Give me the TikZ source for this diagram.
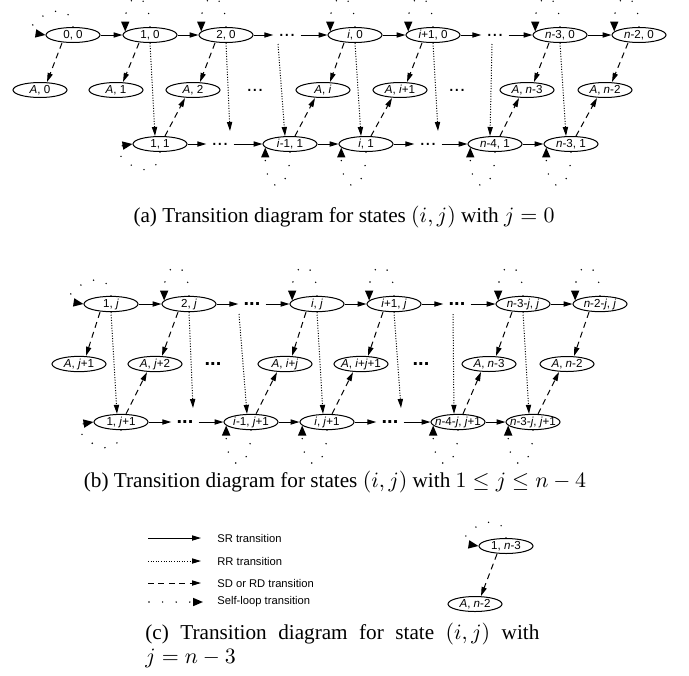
\documentclass[tikz,border=0pt]{standalone}
\usepackage{fontspec}
\setmainfont{Liberation Serif}
\newfontfamily\nodesf{Liberation Sans}
\usetikzlibrary{arrows.meta,shapes.geometric}
\newcommand\nlab[1]{\makebox[0pt]{#1}}
\newcommand\itl[1]{\textit{#1}}
\begin{document}
\begin{tikzpicture}[x=0.5pt,y=-0.5pt,
  st/.style={ellipse,draw,line width=0.5pt,minimum width=27pt,minimum height=7.5pt,inner sep=0pt,font=\nodesf\fontsize{5.8}{6}\selectfont},
  dotsa/.style={inner xsep=2.5pt,inner ysep=0.5pt,font=\nodesf\fontsize{10}{10}\selectfont},
  dotsb/.style={inner xsep=2.5pt,inner ysep=0.5pt,font=\nodesf\bfseries\fontsize{10}{10}\selectfont},
  tipn/.style={-{Triangle[length=4.5pt,width=2.6pt]}},
  sr/.style={line width=0.5pt,tipn},
  rr/.style={line width=0.5pt,dash pattern=on 0.5pt off 0.8pt,tipn},
  sd/.style={line width=0.5pt,dash pattern=on 3pt off 2.2pt,tipn},
  sl/.style={line width=0.8pt,line cap=round,dash pattern=on 0pt off 6.8pt,-{Triangle[length=5pt,width=4pt]}},
  legt/.style={anchor=west,inner sep=0pt,font=\nodesf\fontsize{5.6}{6}\selectfont},
  captxt/.style={inner sep=0pt,font=\fontsize{10.6}{12}\selectfont},
]
\useasboundingbox (0,0) rectangle (689,675);

% ---------------- panel (a) ----------------
\node[st] (a0) at (73,35) {\nlab{0, 0}};
\node[st] (a1) at (150,35) {\nlab{1, 0}};
\node[st] (a2) at (226,35) {\nlab{2, 0}};
\node[dotsa] (ad1) at (287,35) {...};
\node[st] (ai) at (355,35) {\nlab{\itl{i}, 0}};
\node[st] (aip) at (433,35) {\nlab{\itl{i}+1, 0}};
\node[dotsa] (ad2) at (495,35) {...};
\node[st] (an3) at (560,35) {\nlab{\itl{n}-3, 0}};
\node[st] (an2) at (639,35) {\nlab{\itl{n}-2, 0}};

\node[st] (aA0) at (40,90) {\nlab{\itl{A}, 0}};
\node[st] (aA1) at (116,90) {\nlab{\itl{A}, 1}};
\node[st] (aA2) at (193,90) {\nlab{\itl{A}, 2}};
\node[dotsa] (aAd1) at (255,90) {...};
\node[st] (aAi) at (323,90) {\nlab{\itl{A}, \itl{i}}};
\node[st] (aAip) at (400,90) {\nlab{\itl{A}, \itl{i}+1}};
\node[dotsa] (aAd2) at (457,90) {...};
\node[st] (aAn3) at (527,90) {\nlab{\itl{A}, \itl{n}-3}};
\node[st] (aAn2) at (605,90) {\nlab{\itl{A}, \itl{n}-2}};

\node[st] (b1) at (160,144) {\nlab{1, 1}};
\node[dotsa] (bd1) at (220,144) {...};
\node[st] (bim) at (290,144) {\nlab{\itl{i}-1, 1}};
\node[st] (bi) at (366,144) {\nlab{\itl{i}, 1}};
\node[dotsa] (bd2) at (428,144) {...};
\node[st] (bn4) at (495,144) {\nlab{\itl{n}-4, 1}};
\node[st] (bn3) at (571,144) {\nlab{\itl{n}-3, 1}};

\coordinate (rra1) at (230,131);
\coordinate (rra2) at (278,44);
\coordinate (rra3) at (438,131);
\coordinate (rra4) at (492,44);

\foreach \u/\v in {a0/a1,a1/a2,a2/ad1,ad1/ai,ai/aip,aip/ad2,ad2/an3,an3/an2,
                   b1/bd1,bd1/bim,bim/bi,bi/bd2,bd2/bn4,bn4/bn3}
  \draw[sr] (\u) -- (\v);
\foreach \u/\v in {a0/aA0,a1/aA1,a2/aA2,ai/aAi,aip/aAip,an3/aAn3,an2/aAn2}
  \draw[sd] ([xshift=-5.5pt]\u.south) -- ([xshift=3.5pt]\v.north);
\foreach \u/\v in {b1/aA2,bim/aAi,bi/aAip,bn4/aAn3,bn3/aAn2}
  \draw[sd] ([xshift=2.5pt]\u.north) -- ([xshift=-4pt]\v.south);
\foreach \u/\v in {a1/b1,ai/bi,an3/bn3}
  \draw[rr] (\u.south) -- ([xshift=-2.5pt]\v.north);
\draw[rr] (a2.south) -- (rra1);
\draw[rr] (aip.south) -- (rra3);
\draw[rr] (rra2) -- ([xshift=-2.5pt]bim.north);
\draw[rr] (rra4) -- ([xshift=-2.5pt]bn4.north);

% ---------------- panel (b) ----------------
\node[st] (c1) at (111,304) {\nlab{1, \itl{j}}};
\node[st] (c2) at (189,304) {\nlab{2, \itl{j}}};
\node[dotsb] (cd1) at (252,304) {...};
\node[st] (ci) at (317,304) {\nlab{\itl{i}, \itl{j}}};
\node[st] (cip) at (394,304) {\nlab{\itl{i}+1, \itl{j}}};
\node[dotsb] (cd2) at (457,304) {...};
\node[st] (cn3) at (523,304) {\nlab{\itl{n}-3-\itl{j}, \itl{j}}};
\node[st] (cn2) at (600,304) {\nlab{\itl{n}-2-\itl{j}, \itl{j}}};

\node[st] (cA1) at (79,364) {\nlab{\itl{A}, \itl{j}+1}};
\node[st] (cA2) at (155,364) {\nlab{\itl{A}, \itl{j}+2}};
\node[dotsb] (cAd1) at (213,364) {...};
\node[st] (cAi) at (285,364) {\nlab{\itl{A}, \itl{i}+\itl{j}}};
\node[st] (cAip) at (361,364) {\nlab{\itl{A}, \itl{i}+\itl{j}+1}};
\node[dotsb] (cAd2) at (421,364) {...};
\node[st] (cAn3) at (489,364) {\nlab{\itl{A}, \itl{n}-3}};
\node[st] (cAn2) at (567,364) {\nlab{\itl{A}, \itl{n}-2}};

\node[st] (e1) at (121,422) {\nlab{1, \itl{j}+1}};
\node[dotsb] (ed1) at (185,422) {...};
\node[st] (eim) at (251,422) {\nlab{\itl{i}-1, \itl{j}+1}};
\node[st] (ei) at (327,422) {\nlab{\itl{i}, \itl{j}+1}};
\node[dotsb] (ed2) at (390,422) {...};
\node[st] (en4) at (458,422) {\nlab{\itl{n}-4-\itl{j}, \itl{j}+1}};
\node[st] (en3) at (533,422) {\nlab{\itl{n}-3-\itl{j}, \itl{j}+1}};

\coordinate (rrb1) at (193,408);
\coordinate (rrb2) at (239,314);
\coordinate (rrb3) at (401,408);
\coordinate (rrb4) at (453,314);

\foreach \u/\v in {c1/c2,c2/cd1,cd1/ci,ci/cip,cip/cd2,cd2/cn3,cn3/cn2,
                   e1/ed1,ed1/eim,eim/ei,ei/ed2,ed2/en4,en4/en3}
  \draw[sr] (\u) -- (\v);
\foreach \u/\v in {c1/cA1,c2/cA2,ci/cAi,cip/cAip,cn3/cAn3,cn2/cAn2}
  \draw[sd] ([xshift=-5.5pt]\u.south) -- ([xshift=3.5pt]\v.north);
\foreach \u/\v in {e1/cA2,eim/cAi,ei/cAip,en4/cAn3,en3/cAn2}
  \draw[sd] ([xshift=2.5pt]\u.north) -- ([xshift=-4pt]\v.south);
\foreach \u/\v in {c1/e1,ci/ei,cn3/en3}
  \draw[rr] (\u.south) -- ([xshift=-2pt]\v.north);
\draw[rr] (c2.south) -- (rrb1);
\draw[rr] (cip.south) -- (rrb3);
\draw[rr] (rrb2) -- ([xshift=-2pt]eim.north);
\draw[rr] (rrb4) -- ([xshift=-2pt]en4.north);

% ---------------- panel (c) ----------------
\node[st] (f1) at (506,546) {\nlab{1, \itl{n}-3}};
\node[st] (fA) at (475,604) {\nlab{\itl{A}, \itl{n}-2}};
\draw[sd] ([xshift=-4.5pt]f1.south) -- ([xshift=3pt]fA.north);

% ---------------- self loops ----------------
\foreach \n in {a1,a2,ai,aip,an3,an2,c2,ci,cip,cn3,cn2}
  \draw[sl] (\n.north) .. controls +(0,-38) and +(0,-42) .. (\n.172);
\foreach \n in {a0,c1,f1}
  \draw[sl] (\n.north) .. controls +(-3,-38) and +(-31,-5) .. (\n.west);
\foreach \n in {bim,bi,bn4,bn3,eim,ei,en4,en3}
  \draw[sl] (\n.south) .. controls +(0,44) and +(0,48) .. (\n.188);
\foreach \n in {b1,e1}
  \draw[sl] (\n.south) .. controls +(-3,42) and +(-31,5) .. (\n.west);

% ---------------- legend ----------------
\coordinate (l1s) at (148,538); \coordinate (l1e) at (201,538);
\coordinate (l2s) at (148,561); \coordinate (l2e) at (201,561);
\coordinate (l3s) at (148,583); \coordinate (l3e) at (201,583);
\coordinate (l4s) at (149,602); \coordinate (l4e) at (203,602);
\draw[sr] (l1s) -- (l1e);
\draw[rr] (l2s) -- (l2e);
\draw[sd] (l3s) -- (l3e);
\draw[sl] (l4s) -- (l4e);
\node[legt] (l1t) at (217,538) {SR transition};
\node[legt] (l2t) at (217,561) {RR transition};
\node[legt] (l3t) at (217,583) {SD or RD transition};
\node[legt] (l4t) at (217,602) {Self-loop transition};

% ---------------- captions ----------------
\node[captxt] (capa) at (344,217) {(a) Transition diagram for states $(i,j)$ with $j=0$};
\node[captxt] (capb) at (335,482) {(b) Transition diagram for states $(i,j)$ with $1\le j\le n-4$};
\node[captxt,anchor=north west,text width=197pt,align=justify] (capc) at (145,623)
  {(c) Transition diagram for state $(i,j)$ with \mbox{$j=n-3$}};
\end{tikzpicture}
\end{document}
